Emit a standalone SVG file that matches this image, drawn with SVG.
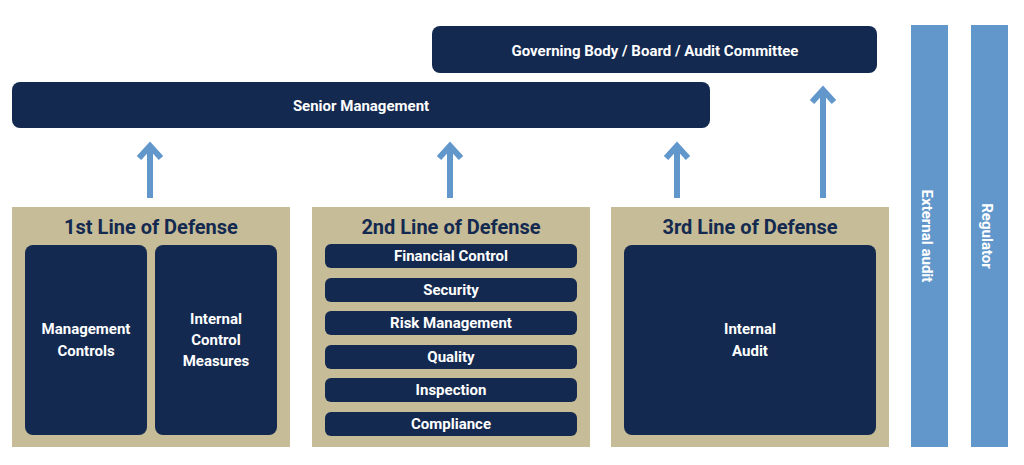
<svg xmlns="http://www.w3.org/2000/svg" width="1024" height="465" viewBox="0 0 1024 465">
<style>
.n{fill:#13294f}
.t{fill:#c6bc98}
.b{fill:#6297cc}
.w{fill:#fff;font-family:Roboto,"Liberation Sans",sans-serif;font-weight:bold;text-anchor:middle;font-size:15px}
.h{fill:#13294f;font-family:Roboto,"Liberation Sans",sans-serif;font-weight:bold;text-anchor:middle;font-size:20px}
.a{stroke:#6297cc;stroke-width:6;fill:none}
</style>
<rect width="1024" height="465" fill="#fff"/>
<g id="governing"><rect class="n" x="432" y="26" width="445" height="47" rx="8"/><text class="w" x="655" y="56" font-size="18">Governing Body / Board / Audit Committee</text></g>
<g id="senior"><rect class="n" x="12" y="82" width="698" height="46" rx="8"/><text class="w" x="361" y="111" font-size="18">Senior Management</text></g>
<g id="connectors">
<path class="a" d="M150 198V148M139 158L150 146L161 158"/>
<path class="a" d="M450 198V148M439 158L450 146L461 158"/>
<path class="a" d="M677 198V148M666 158L677 146L688 158"/>
<path class="a" d="M823 198V92M812 102L823 90L834 102"/>
</g>
<g id="line1"><rect class="t" x="12" y="207" width="278" height="240"/><text class="h" x="151" y="234">1st Line of Defense</text>
<rect class="n" x="25" y="245" width="122" height="190" rx="8"/><text class="w" x="86" y="334">Management</text><text class="w" x="86" y="356">Controls</text>
<rect class="n" x="155" y="245" width="122" height="190" rx="8"/><text class="w" x="216" y="324">Internal</text><text class="w" x="216" y="345">Control</text><text class="w" x="216" y="366">Measures</text></g>
<g id="line2"><rect class="t" x="312" y="207" width="278" height="240"/><text class="h" x="451" y="234">2nd Line of Defense</text>
<rect class="n" x="325" y="244" width="252" height="24" rx="6"/><text class="w" x="451" y="261">Financial Control</text>
<rect class="n" x="325" y="278" width="252" height="24" rx="6"/><text class="w" x="451" y="295">Security</text>
<rect class="n" x="325" y="311" width="252" height="24" rx="6"/><text class="w" x="451" y="328">Risk Management</text>
<rect class="n" x="325" y="345" width="252" height="24" rx="6"/><text class="w" x="451" y="362">Quality</text>
<rect class="n" x="325" y="378" width="252" height="24" rx="6"/><text class="w" x="451" y="395">Inspection</text>
<rect class="n" x="325" y="412" width="252" height="24" rx="6"/><text class="w" x="451" y="429">Compliance</text></g>
<g id="line3"><rect class="t" x="611" y="207" width="278" height="240"/><text class="h" x="750" y="234">3rd Line of Defense</text>
<rect class="n" x="624" y="245" width="252" height="190" rx="8"/><text class="w" x="750" y="334">Internal</text><text class="w" x="750" y="356">Audit</text></g>
<g id="external"><rect class="b" x="911" y="25" width="37" height="422"/><text class="w" font-size="20" transform="translate(922 236) rotate(90)">External audit</text></g>
<g id="regulator"><rect class="b" x="971" y="25" width="37" height="422"/><text class="w" font-size="20" transform="translate(982 236) rotate(90)">Regulator</text></g>
</svg>
